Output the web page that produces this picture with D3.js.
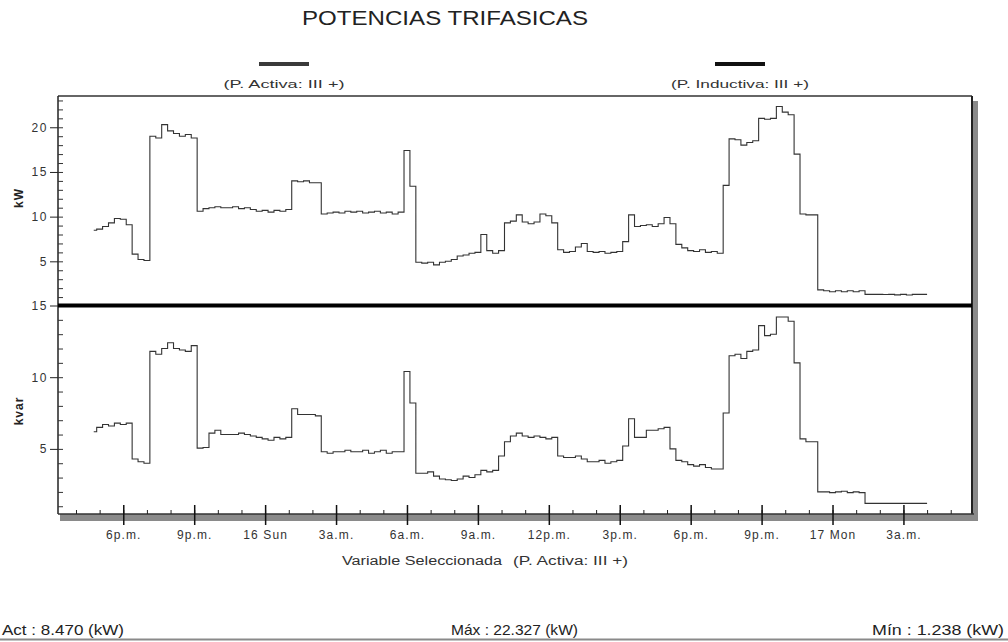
<!DOCTYPE html>
<html>
<head>
<meta charset="utf-8">
<script src="https://cdn.jsdelivr.net/npm/d3@7"></script>
<style>
  html, body { margin: 0; padding: 0; background: #ffffff; }
  svg { display: block; font-family: "Liberation Sans", Arial, sans-serif; }
</style>
</head>
<body>
<svg id="chart" width="1008" height="642"></svg>
<script>
// Quarter-hour readings, starting 15th 16:45
const startTime = new Date(2005, 0, 15, 16, 45);
const stepMinutes = 15;

// Active power, kW
const activeKW = [
  8.47, 8.6, 8.9, 9.3, 9.8, 9.7, 9.1, 5.8, 5.2, 5.1,
  19.0, 18.8, 20.3, 19.6, 19.3, 19.0, 19.2, 18.8, 10.6, 10.9,
  11.0, 11.1, 11.0, 11.0, 11.1, 10.9, 11.0, 10.8, 10.6, 10.7,
  10.5, 10.7, 10.6, 10.8, 14.0, 13.9, 14.0, 13.8, 13.8, 10.3,
  10.4, 10.5, 10.4, 10.6, 10.5, 10.6, 10.4, 10.5, 10.6, 10.4,
  10.5, 10.3, 10.5, 17.4, 13.4, 4.9, 4.8, 4.9, 4.6, 4.9,
  5.0, 5.2, 5.6, 5.7, 5.9, 6.0, 8.0, 6.2, 5.9, 6.2,
  9.3, 9.5, 10.2, 9.4, 9.2, 9.4, 10.3, 10.1, 9.3, 6.3,
  6.0, 6.1, 6.6, 7.0, 6.1, 6.0, 6.1, 5.9, 6.0, 6.1,
  7.2, 10.2, 8.9, 9.0, 9.1, 8.9, 9.2, 9.9, 9.2, 6.9,
  6.5, 6.2, 6.1, 6.3, 6.0, 6.1, 5.9, 13.5, 18.7, 18.6,
  18.0, 18.3, 18.5, 21.0, 20.9, 21.0, 22.327, 21.7, 21.4, 17.0,
  10.3, 10.2, 10.2, 1.8, 1.7, 1.6, 1.7, 1.6, 1.7, 1.6,
  1.7, 1.3, 1.3, 1.3, 1.28, 1.3, 1.25, 1.3, 1.238, 1.3,
  1.3, 1.3
];

// Inductive reactive power, kvar
const inductiveKvar = [
  6.2, 6.5, 6.7, 6.6, 6.8, 6.7, 6.8, 4.3, 4.1, 4.0,
  11.8, 11.6, 12.0, 12.4, 12.0, 11.9, 11.8, 12.2, 5.05, 5.1,
  6.1, 6.3, 6.0, 6.0, 6.0, 6.1, 6.0, 5.9, 5.8, 5.7,
  5.6, 5.8, 5.7, 5.8, 7.8, 7.4, 7.4, 7.4, 7.3, 4.8,
  4.7, 4.8, 4.8, 4.9, 4.8, 4.8, 4.9, 4.7, 4.8, 4.9,
  4.7, 4.8, 4.8, 10.4, 8.2, 3.3, 3.3, 3.4, 3.1, 2.9,
  2.85, 2.8, 2.9, 3.1, 3.0, 3.2, 3.5, 3.4, 3.5, 4.5,
  5.5, 5.9, 6.1, 5.9, 5.8, 5.9, 5.8, 5.7, 5.8, 4.5,
  4.4, 4.4, 4.5, 4.3, 4.1, 4.1, 4.2, 4.0, 4.1, 4.2,
  5.2, 7.1, 5.8, 5.8, 6.3, 6.3, 6.4, 6.5, 5.0, 4.2,
  4.1, 3.9, 3.8, 3.9, 3.7, 3.6, 3.6, 7.5, 11.5, 11.6,
  11.3, 11.8, 11.9, 13.6, 12.9, 13.0, 14.2, 14.2, 13.9, 11.0,
  5.7, 5.5, 5.5, 2.0, 2.0, 1.95, 2.0, 2.05, 1.95, 2.0,
  1.95, 1.2, 1.2, 1.2, 1.2, 1.2, 1.2, 1.2, 1.2, 1.2,
  1.2, 1.2
];

// Labelled x ticks (every 3 hours)
const majorTickTimes = [
  new Date(2005, 0, 15, 18), new Date(2005, 0, 15, 21),
  new Date(2005, 0, 16, 0), new Date(2005, 0, 16, 3),
  new Date(2005, 0, 16, 6), new Date(2005, 0, 16, 9),
  new Date(2005, 0, 16, 12), new Date(2005, 0, 16, 15),
  new Date(2005, 0, 16, 18), new Date(2005, 0, 16, 21),
  new Date(2005, 0, 17, 0), new Date(2005, 0, 17, 3)
];
const majorTickLabels = [
  "6p.m.", "9p.m.", "16 Sun", "3a.m.", "6a.m.", "9a.m.",
  "12p.m.", "3p.m.", "6p.m.", "9p.m.", "17 Mon", "3a.m."
];

const topTicks = [5, 10, 15, 20];
const bottomTicks = [5, 10, 15];

const seriesNames = ["(P. Activa: III +)", "(P. Inductiva: III +)"];
const chartTitle = "POTENCIAS TRIFASICAS";

// ---- layout ----
const plotLeft = 58, plotRight = 972;
const plotTop = 96, divY = 305.5, plotBottom = 514;

const svg = d3.select("#chart");
svg.append("rect").attr("width", 1008).attr("height", 642).attr("fill", "#ffffff");

const times = activeKW.map((_, i) => d3.timeMinute.offset(startTime, i * stepMinutes));

const x = d3.scaleTime()
  .domain([new Date(2005, 0, 15, 15, 14, 20), new Date(2005, 0, 17, 5, 54, 0)])
  .range([plotLeft, plotRight]);

const yTop = d3.scaleLinear().domain([0, 23.5]).range([306, plotTop]);
const yBot = d3.scaleLinear().domain([0.25, 15]).range([517, divY]);

// ---- frame ----
// shadow on right side and bottom band
svg.append("rect").attr("x", plotRight + 1).attr("y", plotTop + 5)
  .attr("width", 5).attr("height", plotBottom - plotTop + 2).attr("fill", "#8a8a8a");
svg.append("rect").attr("x", plotLeft + 2).attr("y", plotBottom)
  .attr("width", plotRight - plotLeft + 4).attr("height", 7).attr("fill", "#8a8a8a");
svg.append("line").attr("x1", plotLeft).attr("x2", plotRight)
  .attr("y1", plotTop).attr("y2", plotTop).attr("stroke", "#333").attr("stroke-width", 1.5);
svg.append("line").attr("x1", plotRight).attr("x2", plotRight)
  .attr("y1", plotTop).attr("y2", plotBottom).attr("stroke", "#222").attr("stroke-width", 2);
svg.append("line").attr("x1", plotLeft).attr("x2", plotLeft)
  .attr("y1", plotTop).attr("y2", plotBottom).attr("stroke", "#222").attr("stroke-width", 1.5);
svg.append("line").attr("x1", plotLeft).attr("x2", plotRight + 2)
  .attr("y1", plotBottom).attr("y2", plotBottom).attr("stroke", "#333").attr("stroke-width", 1.5);

// ---- y axes ----
function yAxes(scale, majors, minorMax, unitLabel, labelY) {
  const g = svg.append("g").attr("transform", `translate(${plotLeft},0)`);
  g.call(d3.axisLeft(scale).tickValues(majors).tickSize(8).tickPadding(2));
  g.select(".domain").remove();
  g.selectAll(".tick line").attr("stroke", "#222");
  g.selectAll(".tick text").attr("font-size", 12).attr("letter-spacing", 1.6)
    .attr("fill", "#333").attr("font-family", "Liberation Sans, Arial, sans-serif");

  const m = svg.append("g").attr("transform", `translate(${plotLeft},0)`);
  m.call(d3.axisRight(scale).tickValues(d3.range(1, minorMax + 1)).tickSize(5).tickFormat(""));
  m.select(".domain").remove();
  m.selectAll(".tick line").attr("stroke", "#333");

  svg.append("text")
    .attr("transform", `translate(23,${labelY}) rotate(-90)`)
    .attr("text-anchor", "middle")
    .attr("font-size", 12).attr("font-weight", "bold").attr("letter-spacing", 1)
    .attr("fill", "#222").text(unitLabel);
}
yAxes(yTop, topTicks, 23, "kW", 198);
yAxes(yBot, bottomTicks, 14, "kvar", 411);

// ---- x axis ----
const hourTicks = d3.timeHour.range(x.domain()[0], x.domain()[1]);
const minorX = svg.append("g").attr("transform", `translate(0,${plotBottom})`);
minorX.call(d3.axisTop(x).tickValues(hourTicks).tickSize(4).tickFormat(""));
minorX.select(".domain").remove();
minorX.selectAll(".tick line").attr("stroke", "#222");

const majorUp = svg.append("g").attr("transform", `translate(0,${plotBottom})`);
majorUp.call(d3.axisTop(x).tickValues(majorTickTimes).tickSize(9).tickFormat(""));
majorUp.select(".domain").remove();
majorUp.selectAll(".tick line").attr("stroke", "#111").attr("stroke-width", 1.5);

const majorX = svg.append("g").attr("transform", `translate(0,${plotBottom})`);
majorX.call(d3.axisBottom(x).tickValues(majorTickTimes).tickSize(11).tickPadding(5)
  .tickFormat((d, i) => majorTickLabels[i]));
majorX.select(".domain").remove();
majorX.selectAll(".tick line").attr("stroke", "#111").attr("stroke-width", 1.5);
majorX.selectAll(".tick text").attr("font-size", 12).attr("letter-spacing", 1.1)
  .attr("fill", "#333").attr("font-family", "Liberation Sans, Arial, sans-serif");

// ---- divider between panels ----
svg.append("line").attr("x1", plotLeft).attr("x2", plotRight)
  .attr("y1", divY).attr("y2", divY).attr("stroke", "#000").attr("stroke-width", 4);

// ---- series (stepped, as the meter records them) ----
const lineTop = d3.line().curve(d3.curveStep).x((d, i) => x(times[i])).y(d => yTop(d));
const lineBot = d3.line().curve(d3.curveStep).x((d, i) => x(times[i])).y(d => yBot(d));

svg.append("path").datum(activeKW).attr("d", lineTop)
  .attr("fill", "none").attr("stroke", "#333").attr("stroke-width", 1.1);
svg.append("path").datum(inductiveKvar).attr("d", lineBot)
  .attr("fill", "none").attr("stroke", "#333").attr("stroke-width", 1.1);

// ---- title & legend ----
svg.append("text").attr("x", 445).attr("y", 25).attr("text-anchor", "middle")
  .attr("font-size", 20).attr("fill", "#222").attr("textLength", 286)
  .attr("lengthAdjust", "spacingAndGlyphs").text(chartTitle);

const legend = [
  { x: 284, swatch: "#3a3a3a", width: 121 },
  { x: 740, swatch: "#111111", width: 138 }
];
legend.forEach((l, i) => {
  svg.append("rect").attr("x", l.x - 25).attr("y", 62).attr("width", 50).attr("height", 4)
    .attr("fill", l.swatch);
  svg.append("text").attr("x", l.x).attr("y", 88).attr("text-anchor", "middle")
    .attr("font-size", 11).attr("fill", "#333")
    .attr("textLength", l.width).attr("lengthAdjust", "spacingAndGlyphs")
    .text(seriesNames[i]);
});

// ---- selected variable caption ----
svg.append("text").attr("x", 342).attr("y", 565).attr("font-size", 12).attr("fill", "#333")
  .attr("textLength", 160).attr("lengthAdjust", "spacingAndGlyphs").text("Variable Seleccionada");
svg.append("text").attr("x", 513).attr("y", 565).attr("font-size", 12).attr("fill", "#333")
  .attr("textLength", 115).attr("lengthAdjust", "spacingAndGlyphs").text(seriesNames[0]);

// ---- status line ----
const actVal = activeKW[0];
const maxVal = d3.max(activeKW);
const minVal = d3.min(activeKW);
const status = [
  { x: 2, anchor: "start", text: `Act : ${actVal.toFixed(3)} (kW)`, w: 122 },
  { x: 451, anchor: "start", text: `Máx : ${maxVal.toFixed(3)} (kW)`, w: 127 },
  { x: 1004, anchor: "end", text: `Mín : ${minVal.toFixed(3)} (kW)`, w: 132 }
];
status.forEach(s => {
  svg.append("text").attr("x", s.x).attr("y", 635).attr("text-anchor", s.anchor)
    .attr("font-size", 15).attr("fill", "#222")
    .attr("textLength", s.w).attr("lengthAdjust", "spacingAndGlyphs").text(s.text);
});
svg.append("line").attr("x1", 0).attr("x2", 1008).attr("y1", 639.5).attr("y2", 639.5)
  .attr("stroke", "#8a8a8a").attr("stroke-width", 2);
</script>
</body>
</html>
